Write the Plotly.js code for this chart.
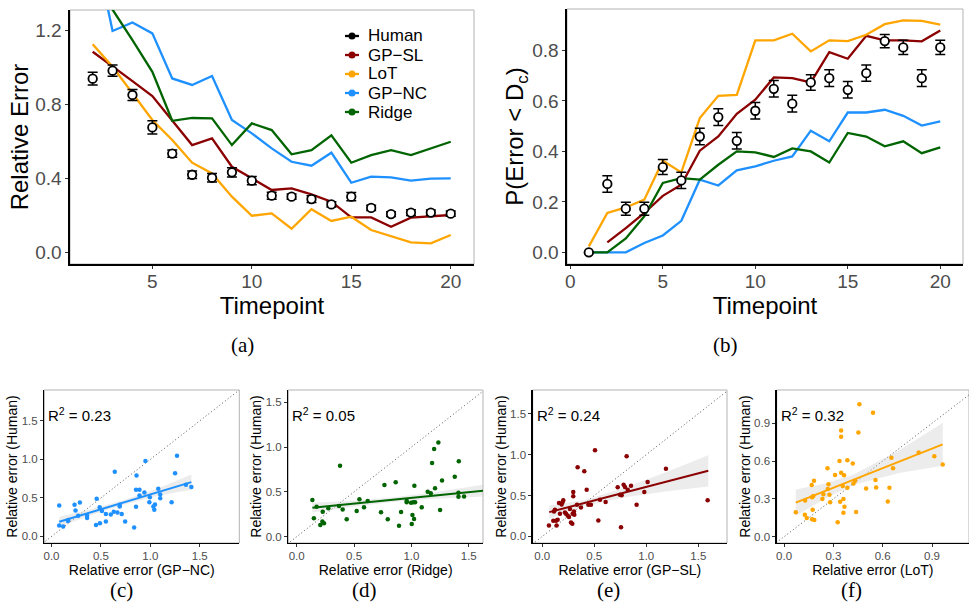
<!DOCTYPE html>
<html><head><meta charset="utf-8">
<script src="https://cdn.plot.ly/plotly-3.0.1.min.js"></script>
<style>html,body{margin:0;padding:0;background:#fff}#chart{width:969px;height:611px}</style>
</head><body><div id="chart"></div>
<script>
// ---------------- DATA ----------------
const timepoints = [1,2,3,4,5,6,7,8,9,10,11,12,13,14,15,16,17,18,19,20];
const seriesNames = ['Human','GP\u2212SL','LoT','GP\u2212NC','Ridge'];
const seriesColors = ['#000000','#8B0000','#FFA500','#1E90FF','#006400'];

// Panel (a): relative error by timepoint
const relHuman    = [null,0.938,0.981,0.850,0.675,0.534,0.420,0.404,0.433,0.388,0.307,0.302,0.289,0.260,0.302,0.241,0.208,0.216,0.216,0.210];
const relHumanErr = [null,0.034,0.030,0.030,0.036,0.020,0.020,0.023,0.025,0.022,0.019,0.014,0.018,0.014,0.022,0.014,0.013,0.015,0.014,0.014];
const relGPSL     = [null,1.083,1.005,0.925,0.844,0.715,0.580,0.616,0.463,0.401,0.338,0.347,0.314,0.275,0.190,0.190,0.140,0.189,0.194,0.203];
const relLoT      = [null,1.123,1.002,0.859,0.715,0.607,0.485,0.427,0.302,0.199,0.212,0.129,0.234,0.171,0.194,0.122,0.090,0.056,0.050,0.095];
const relGPNC     = [null,1.700,1.195,1.241,1.182,0.939,0.904,0.952,0.715,0.643,0.562,0.490,0.469,0.539,0.377,0.410,0.406,0.388,0.399,0.401];
const relRidge    = [null,1.600,1.310,1.146,0.975,0.711,0.726,0.724,0.580,0.697,0.661,0.530,0.553,0.632,0.485,0.526,0.553,0.526,0.562,0.598];

// Panel (b): P(Error < Dc) by timepoint
const pHuman    = [0,0.271,0.173,0.173,0.338,0.285,0.459,0.536,0.442,0.561,0.648,0.589,0.673,0.690,0.644,0.710,0.837,0.812,0.690,0.812];
const pHumanErr = [0,0.033,0.026,0.026,0.030,0.032,0.033,0.033,0.033,0.033,0.033,0.033,0.031,0.033,0.033,0.032,0.026,0.028,0.033,0.028];
const pGPSL     = [null,0.040,0.096,0.156,0.224,0.268,0.403,0.459,0.549,0.605,0.693,0.690,0.673,0.793,0.767,0.858,0.840,0.840,0.836,0.879];
const pLoT      = [0.024,0.156,0.178,0.209,0.363,0.317,0.532,0.620,0.624,0.840,0.840,0.866,0.796,0.840,0.837,0.862,0.904,0.919,0.917,0.902];
const pGPNC     = [0,0,0,0.037,0.067,0.125,0.288,0.265,0.325,0.341,0.363,0.380,0.482,0.440,0.554,0.554,0.565,0.541,0.502,0.519];
const pRidge    = [0,0,0.055,0.143,0.275,0.294,0.288,0.347,0.400,0.396,0.378,0.412,0.400,0.356,0.473,0.459,0.420,0.440,0.393,0.416];

// Panel (c): GP-NC vs Human
const cModel = [0.078,0.118,0.078,0.166,0.169,0.233,0.243,0.287,0.27,0.36,0.36,0.457,0.45,0.49,0.487,0.51,0.55,0.55,0.6,0.64,0.63,0.667,0.69,0.69,0.71,0.745,0.836,0.855,0.86,0.855,0.89,0.89,0.94,0.95,0.995,0.99,1.03,1.04,1.047,1.08,1.1,1.1,1.215,1.25,1.27,1.36,1.415];
const cHuman = [0.143,0.13,0.40,0.199,0.215,0.41,0.337,0.44,0.27,0.27,0.24,0.49,0.147,0.17,0.38,0.33,0.29,0.195,0.285,0.84,0.32,0.31,0.39,0.41,0.29,0.195,0.117,0.385,0.79,0.605,0.605,0.53,0.57,0.98,0.51,0.445,0.39,0.345,0.415,0.62,0.545,0.497,0.445,0.82,1.046,0.67,0.64];
const cFitX = [0.078,0.4,0.75,1.1,1.415];
const cFitY = [0.19,0.314,0.449,0.584,0.705];
const cBandLo = [0.125,0.274,0.419,0.534,0.605];
const cBandHi = [0.255,0.354,0.479,0.634,0.805];

// Panel (d): Ridge vs Human
const dModel = [0.137,0.15,0.174,0.206,0.227,0.224,0.238,0.276,0.378,0.369,0.401,0.436,0.523,0.547,0.587,0.619,0.735,0.765,0.794,0.863,0.892,0.91,0.959,0.959,0.997,1.003,1.009,1.017,1.023,1.026,1.032,1.09,1.142,1.169,1.18,1.198,1.206,1.235,1.25,1.267,1.378,1.41,1.41,1.413,1.459];
const dHuman = [0.41,0.205,0.335,0.13,0.28,0.171,0.149,0.317,0.793,0.343,0.305,0.194,0.287,0.417,0.328,0.398,0.272,0.577,0.194,0.607,0.123,0.276,0.402,0.384,0.38,0.142,0.242,0.384,0.197,0.57,0.384,0.328,0.503,0.484,0.823,0.98,0.54,1.05,0.298,0.626,0.67,0.492,0.447,0.842,0.45];
const dFitX = [0.137,0.5,0.85,1.2,1.625];
const dFitY = [0.324,0.370,0.415,0.460,0.514];
const dBandLo = [0.269,0.338,0.390,0.425,0.449];
const dBandHi = [0.379,0.402,0.440,0.495,0.579];

// Panel (e): GP-SL vs Human
const eModel = [0.064,0.106,0.113,0.122,0.132,0.138,0.148,0.161,0.170,0.186,0.196,0.202,0.218,0.228,0.244,0.257,0.266,0.276,0.289,0.292,0.298,0.298,0.305,0.308,0.340,0.334,0.372,0.404,0.427,0.443,0.468,0.507,0.539,0.555,0.609,0.725,0.747,0.757,0.763,0.782,0.795,0.811,0.821,0.853,0.907,0.981,1.013,1.189,1.590];
const eHuman = [0.135,0.192,0.306,0.327,0.192,0.135,0.204,0.409,0.278,0.392,0.421,0.441,0.294,0.278,0.257,0.237,0.335,0.172,0.155,0.278,0.49,0.543,0.306,0.266,0.846,0.388,0.355,0.797,0.572,0.388,0.388,1.054,0.196,0.45,0.421,0.601,0.511,0.114,0.503,0.633,0.605,0.981,0.572,0.621,0.388,0.543,0.666,0.826,0.441];
const eFitX = [0.067,0.4,0.8,1.2,1.596];
const eFitY = [0.297,0.407,0.539,0.671,0.802];
const eBandLo = [0.217,0.372,0.479,0.551,0.612];
const eBandHi = [0.377,0.442,0.599,0.791,0.992];

// Panel (f): LoT vs Human
const fModel = [0.071,0.126,0.138,0.128,0.168,0.182,0.170,0.174,0.170,0.184,0.178,0.264,0.270,0.266,0.276,0.280,0.233,0.239,0.310,0.326,0.337,0.341,0.347,0.347,0.347,0.357,0.361,0.365,0.361,0.367,0.385,0.385,0.418,0.422,0.432,0.438,0.452,0.458,0.499,0.541,0.556,0.560,0.631,0.641,0.653,0.663,0.819,0.914,0.965];
const fHuman = [0.193,0.175,0.149,0.287,0.41,0.444,0.313,0.213,0.139,0.133,0.323,0.543,0.416,0.379,0.332,0.274,0.3,0.337,0.49,0.115,0.601,0.277,0.508,0.842,0.793,0.402,0.3,0.487,0.19,0.238,0.606,0.389,0.58,0.423,0.444,0.196,0.826,1.05,0.383,0.984,0.45,0.391,0.28,0.389,0.627,0.543,0.669,0.638,0.572];
const fFitX = [0.071,0.25,0.42,0.7,0.965];
const fFitY = [0.27,0.363,0.451,0.596,0.733];
const fBandLo = [0.165,0.303,0.411,0.506,0.563];
const fBandHi = [0.375,0.423,0.491,0.686,0.903];

const identityLine = [-0.2, 2.0];
const r2Labels = ['0.23','0.05','0.24','0.32'];
const scatterModelNames = ['GP\u2212NC','Ridge','GP\u2212SL','LoT'];
const scatterColors = ['#1E90FF','#006400','#8B0000','#FFA500'];
const panelLetters = ['(a)','(b)','(c)','(d)','(e)','(f)'];

// ---------------- TRACES ----------------
const FONT = 'Liberation Sans, Arial, Helvetica, sans-serif';
const traces = [];

// panel (a) model lines
[relGPSL, relLoT, relGPNC, relRidge].forEach((arr, i) => {
  traces.push({x: timepoints, y: arr, xaxis:'x', yaxis:'y', mode:'lines', name: seriesNames[i+1], showlegend:false,
    line:{color: seriesColors[i+1], width:2.3}, hoverinfo:'skip'});
});
traces.push({x: timepoints, y: relHuman, xaxis:'x', yaxis:'y', mode:'markers', name:'Human', showlegend:false,
  marker:{symbol:'circle', size:8.5, color:'white', line:{color:'black', width:1.8}},
  error_y:{type:'data', array: relHumanErr, visible:true, color:'black', thickness:1.5, width:5}});

// panel (b) model lines
[pGPSL, pLoT, pGPNC, pRidge].forEach((arr, i) => {
  traces.push({x: timepoints, y: arr, xaxis:'x2', yaxis:'y2', mode:'lines', name: seriesNames[i+1], showlegend:false,
    line:{color: seriesColors[i+1], width:2.3}, hoverinfo:'skip'});
});
traces.push({x: timepoints, y: pHuman, xaxis:'x2', yaxis:'y2', mode:'markers', name:'Human', showlegend:false,
  marker:{symbol:'circle', size:8.5, color:'white', line:{color:'black', width:1.8}},
  error_y:{type:'data', array: pHumanErr, visible:true, color:'black', thickness:1.5, width:5}});

// scatter panels
const scat = [
  [cModel, cHuman, cFitX, cFitY, cBandLo, cBandHi],
  [dModel, dHuman, dFitX, dFitY, dBandLo, dBandHi],
  [eModel, eHuman, eFitX, eFitY, eBandLo, eBandHi],
  [fModel, fHuman, fFitX, fFitY, fBandLo, fBandHi]
];
scat.forEach((s, i) => {
  const xa = 'x' + (i+3), ya = 'y' + (i+3);
  traces.push({x: identityLine, y: identityLine, xaxis:xa, yaxis:ya, mode:'lines', showlegend:false,
    line:{color:'#555', width:1, dash:'1px,2.5px'}, hoverinfo:'skip'});
  traces.push({x: s[2].concat(s[2].slice().reverse()), y: s[5].concat(s[4].slice().reverse()),
    xaxis:xa, yaxis:ya, mode:'lines', fill:'toself', fillcolor:'rgba(200,200,200,0.35)',
    line:{width:0, color:'rgba(0,0,0,0)'}, showlegend:false, hoverinfo:'skip'});
  traces.push({x: s[0], y: s[1], xaxis:xa, yaxis:ya, mode:'markers', showlegend:false,
    marker:{color: scatterColors[i], size:4.5}});
  traces.push({x: s[2], y: s[3], xaxis:xa, yaxis:ya, mode:'lines', showlegend:false,
    line:{color: scatterColors[i], width:2}, hoverinfo:'skip'});
});

// ---------------- LAYOUT ----------------
function ax(extra, tickSize) {
  return Object.assign({
    showline:true, linecolor:'black', linewidth:1.6, mirror:false,
    showgrid:false, zeroline:false, ticks:'outside', ticklen:3, tickcolor:'#333', tickwidth:1,
    tickfont:{family:FONT, size:tickSize, color:'#4D4D4D'}, automargin:false, fixedrange:true
  }, extra);
}
const bigTitle = {family:FONT, size:24, color:'black'};
const smallTitle = {family:FONT, size:14, color:'black'};

const W = 969, H = 611;
const px = v => v / W, py = v => 1 - v / H;

const layout = {
  width: W, height: H, margin:{l:0, r:0, t:0, b:0},
  paper_bgcolor:'white', plot_bgcolor:'white',
  font:{family:FONT},
  showlegend:false,
  xaxis: ax({domain:[px(70), px(474)], range:[0.86, 21.17], tickvals:[5,10,15,20], anchor:'y', ticklabelstandoff:-3,
    title:{text:'Timepoint', font:bigTitle, standoff:0}}, 19),
  yaxis: ax({domain:[py(264), py(10)], range:[-0.061, 1.308], tickvals:[0,0.4,0.8,1.2], tickformat:'.1f', anchor:'x',
    title:{text:'Relative Error', font:bigTitle, standoff:0}}, 19),
  xaxis2: ax({domain:[px(567), px(963)], range:[-0.18, 21.23], tickvals:[0,5,10,15,20], anchor:'y2', ticklabelstandoff:-3,
    title:{text:'Timepoint', font:bigTitle, standoff:0}}, 19),
  yaxis2: ax({domain:[py(264), py(9)], range:[-0.046, 0.964], tickvals:[0,0.2,0.4,0.6,0.8], tickformat:'.1f', anchor:'x2',
    title:{text:'P(Error &lt; D<sub>c</sub>)', font:bigTitle, standoff:1}}, 19),
  annotations: [], shapes: []
};

const scatterDomainsX = [[44.3,239.3],[288.3,483],[532.7,727],[776.7,969]];
const scatterRangesX = [[-0.073,1.9],[-0.073,1.624],[-0.092,1.776],[-0.045,1.125]];
const scatterRangesY = [[-0.085,1.9],[-0.07,1.637],[-0.08,1.79],[-0.05,1.164]];
const scatterTicks = [[0,0.5,1,1.5],[0,0.5,1,1.5],[0,0.5,1,1.5],[0,0.3,0.6,0.9]];
scatterDomainsX.forEach((d, i) => {
  const n = i + 3;
  layout['xaxis' + n] = ax({domain:[px(d[0]), px(d[1])], range: scatterRangesX[i], tickvals: scatterTicks[i],
    tickformat:'.1f', anchor:'y' + n, linewidth:1.3, ticklen:3, ticklabelstandoff:-1,
    title:{text:'Relative error (' + scatterModelNames[i] + ')', font:smallTitle, standoff:0}}, 11.5);
  layout['yaxis' + n] = ax({domain:[py(543), py(390)], range: scatterRangesY[i], tickvals: scatterTicks[i],
    tickformat:'.1f', anchor:'x' + n, linewidth:1.3, ticklen:3,
    title:{text:'Relative error (Human)', font:smallTitle, standoff:0}}, 11.5);
  layout.annotations.push({xref:'x' + n + ' domain', yref:'y' + n + ' domain', x:0.01, y:0.84,
    xanchor:'left', yanchor:'middle', showarrow:false,
    text:'R<sup>2</sup> = ' + r2Labels[i], font:{family:FONT, size:15, color:'black'}});
});

// border rectangles (gray panel frame)
['', '2', '3', '4', '5', '6'].forEach(s => {
  layout.shapes.push({type:'rect', xref:'x' + s + ' domain', yref:'y' + s + ' domain',
    x0:0, x1:1, y0:0, y1:1, line:{color:'#B3B3B3', width:1}, layer:'below'});
});

// legend for panel (a): glyph = short line with a dot, then the series name
const legendLeft = 345, legendTop = 36, legendStep = 19;
seriesNames.forEach((n, i) => {
  const yy = legendTop + i * legendStep;
  layout.shapes.push({type:'line', xref:'paper', yref:'paper', x0: px(legendLeft), x1: px(legendLeft + 14),
    y0: py(yy), y1: py(yy), line:{color: seriesColors[i], width:2.3}});
  layout.shapes.push({type:'circle', xref:'paper', yref:'paper', x0: px(legendLeft + 3.5), x1: px(legendLeft + 10.5),
    y0: py(yy + 3.5), y1: py(yy - 3.5), fillcolor: seriesColors[i], line:{color: seriesColors[i], width:0}});
  layout.annotations.push({xref:'paper', yref:'paper', x: px(legendLeft + 21), y: py(yy),
    xanchor:'left', yanchor:'middle', showarrow:false, text:n,
    font:{family:FONT, size:17, color:'black'}});
});

// sub-figure captions
const captionPos = [[242,345],[725,345],[121.7,590],[364,590],[608,590],[851.7,590]];
panelLetters.forEach((t, i) => {
  layout.annotations.push({xref:'paper', yref:'paper', x: px(captionPos[i][0]), y: py(captionPos[i][1]),
    xanchor:'center', yanchor:'middle', showarrow:false, text:t,
    font:{family:'Liberation Serif, Times New Roman, serif', size:21, color:'black'}});
});

Plotly.newPlot('chart', traces, layout, {displayModeBar:false, staticPlot:true});
</script></body></html>
